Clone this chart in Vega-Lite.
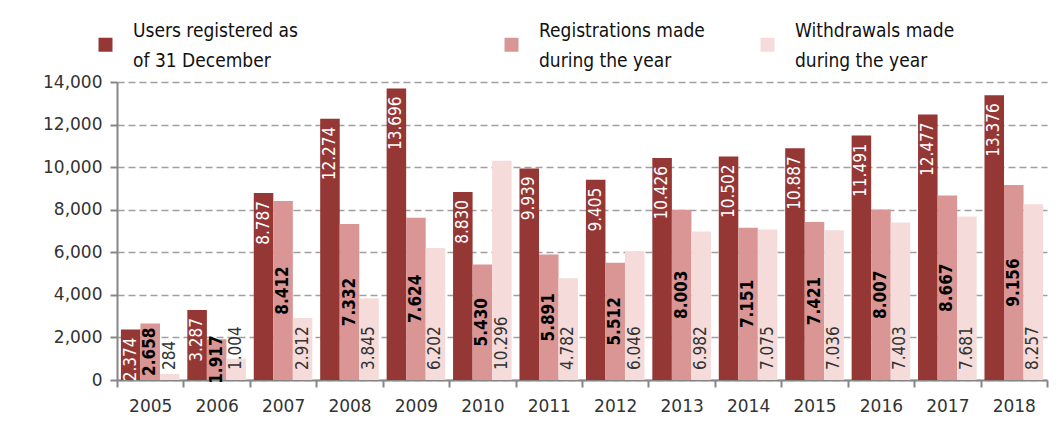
{
  "$schema": "https://vega.github.io/schema/vega-lite/v6.json",
  "width": 930,
  "height": 298,
  "autosize": "none",
  "padding": {"left": 117, "top": 82, "right": 14, "bottom": 43},
  "background": "white",
  "data": {
    "values": [
      {"year": "2005", "series": "Users registered as of 31 December", "value": 2374},
      {"year": "2005", "series": "Registrations made during the year", "value": 2658},
      {"year": "2005", "series": "Withdrawals made during the year", "value": 284},
      {"year": "2006", "series": "Users registered as of 31 December", "value": 3287},
      {"year": "2006", "series": "Registrations made during the year", "value": 1917},
      {"year": "2006", "series": "Withdrawals made during the year", "value": 1004},
      {"year": "2007", "series": "Users registered as of 31 December", "value": 8787},
      {"year": "2007", "series": "Registrations made during the year", "value": 8412},
      {"year": "2007", "series": "Withdrawals made during the year", "value": 2912},
      {"year": "2008", "series": "Users registered as of 31 December", "value": 12274},
      {"year": "2008", "series": "Registrations made during the year", "value": 7332},
      {"year": "2008", "series": "Withdrawals made during the year", "value": 3845},
      {"year": "2009", "series": "Users registered as of 31 December", "value": 13696},
      {"year": "2009", "series": "Registrations made during the year", "value": 7624},
      {"year": "2009", "series": "Withdrawals made during the year", "value": 6202},
      {"year": "2010", "series": "Users registered as of 31 December", "value": 8830},
      {"year": "2010", "series": "Registrations made during the year", "value": 5430},
      {"year": "2010", "series": "Withdrawals made during the year", "value": 10296},
      {"year": "2011", "series": "Users registered as of 31 December", "value": 9939},
      {"year": "2011", "series": "Registrations made during the year", "value": 5891},
      {"year": "2011", "series": "Withdrawals made during the year", "value": 4782},
      {"year": "2012", "series": "Users registered as of 31 December", "value": 9405},
      {"year": "2012", "series": "Registrations made during the year", "value": 5512},
      {"year": "2012", "series": "Withdrawals made during the year", "value": 6046},
      {"year": "2013", "series": "Users registered as of 31 December", "value": 10426},
      {"year": "2013", "series": "Registrations made during the year", "value": 8003},
      {"year": "2013", "series": "Withdrawals made during the year", "value": 6982},
      {"year": "2014", "series": "Users registered as of 31 December", "value": 10502},
      {"year": "2014", "series": "Registrations made during the year", "value": 7151},
      {"year": "2014", "series": "Withdrawals made during the year", "value": 7075},
      {"year": "2015", "series": "Users registered as of 31 December", "value": 10887},
      {"year": "2015", "series": "Registrations made during the year", "value": 7421},
      {"year": "2015", "series": "Withdrawals made during the year", "value": 7036},
      {"year": "2016", "series": "Users registered as of 31 December", "value": 11491},
      {"year": "2016", "series": "Registrations made during the year", "value": 8007},
      {"year": "2016", "series": "Withdrawals made during the year", "value": 7403},
      {"year": "2017", "series": "Users registered as of 31 December", "value": 12477},
      {"year": "2017", "series": "Registrations made during the year", "value": 8667},
      {"year": "2017", "series": "Withdrawals made during the year", "value": 7681},
      {"year": "2018", "series": "Users registered as of 31 December", "value": 13376},
      {"year": "2018", "series": "Registrations made during the year", "value": 9156},
      {"year": "2018", "series": "Withdrawals made during the year", "value": 8257}
    ]
  },
  "transform": [
    {"calculate": "replace(format(datum.value, ','), ',', '.')", "as": "label"},
    {"calculate": "datum.value / 2", "as": "mid"}
  ],
  "encoding": {
    "x": {
      "field": "year", "type": "nominal", "title": null,
      "scale": {"paddingInner": 0, "paddingOuter": 0},
      "axis": {
        "labelAngle": 0, "labelFont": "DejaVu Sans", "labelFontSize": 17, "labelColor": "#333333",
        "labelPadding": 11, "tickBand": "extent", "tickSize": 7, "tickColor": "#868686", "tickWidth": 2,
        "domainColor": "#868686", "domainWidth": 2, "grid": false
      }
    },
    "xOffset": {
      "field": "series", "type": "nominal",
      "scale": {
        "domain": ["Users registered as of 31 December", "Registrations made during the year", "Withdrawals made during the year"],
        "paddingInner": 0, "paddingOuter": 0.2
      }
    }
  },
  "layer": [
    {
      "mark": {"type": "bar"},
      "encoding": {
        "y": {
          "field": "value", "type": "quantitative", "title": null,
          "scale": {"domain": [0, 14000]},
          "axis": {
            "values": [0, 2000, 4000, 6000, 8000, 10000, 12000, 14000], "format": ",d",
            "labelFont": "DejaVu Sans", "labelFontSize": 17, "labelColor": "#333333", "labelPadding": 8,
            "tickSize": 7, "tickColor": "#868686", "tickWidth": 2,
            "domainColor": "#868686", "domainWidth": 2,
            "grid": true, "gridColor": "#a0a0a0", "gridDash": [7, 4], "gridWidth": 1.5
          }
        },
        "color": {
          "field": "series", "type": "nominal",
          "scale": {
            "domain": ["Users registered as of 31 December", "Registrations made during the year", "Withdrawals made during the year"],
            "range": ["#953735", "#DA9694", "#F5DCDB"]
          },
          "legend": {
            "title": null, "orient": "none", "direction": "horizontal",
            "legendX": -21, "legendY": -47,
            "symbolType": "square", "symbolSize": 196, "symbolStrokeWidth": 0,
            "labelFont": "Liberation Sans Narrow, DejaVu Sans Condensed, Liberation Sans",
            "labelFontSize": 19, "labelColor": "#111111", "labelLimit": 400,
            "columnPadding": 53, "labelOffset": 18,
            "labelExpr": "datum.label == 'Users registered as of 31 December' ? ['Users registered as\u2800\u2800\u2800\u2800\u2800\u2800\u2800\u2800\u2800\u2800\u2800\u2800', 'of 31 December'] : datum.label == 'Registrations made during the year' ? ['Registrations made', 'during the year'] : ['Withdrawals made', 'during the year']",
            "encode": {"labels": {"update": {"lineHeight": {"value": 30}, "dy": {"value": -14}}}}
          }
        }
      }
    },
    {
      "transform": [{"filter": "datum.series == 'Users registered as of 31 December'"}],
      "mark": {"type": "text", "angle": 270, "align": "right", "baseline": "middle", "dx": -8,
               "font": "Liberation Sans Narrow, DejaVu Sans Condensed, Liberation Sans", "fontSize": 17, "color": "white"},
      "encoding": {
        "y": {"field": "value", "type": "quantitative"},
        "text": {"field": "label"}
      }
    },
    {
      "transform": [{"filter": "datum.series == 'Registrations made during the year'"}],
      "mark": {"type": "text", "angle": 270, "align": "center", "baseline": "middle",
               "font": "Liberation Sans Narrow, DejaVu Sans Condensed, Liberation Sans", "fontSize": 17, "fontWeight": "bold", "color": "black"},
      "encoding": {
        "y": {"field": "mid", "type": "quantitative"},
        "text": {"field": "label"}
      }
    },
    {
      "transform": [{"filter": "datum.series == 'Withdrawals made during the year'"}],
      "mark": {"type": "text", "angle": 270, "align": "left", "baseline": "middle", "dx": 10,
               "font": "Liberation Sans Narrow, DejaVu Sans Condensed, Liberation Sans", "fontSize": 17, "color": "#333333"},
      "encoding": {
        "y": {"datum": 0, "type": "quantitative"},
        "text": {"field": "label"}
      }
    }
  ],
  "config": {"view": {"stroke": null}}
}
